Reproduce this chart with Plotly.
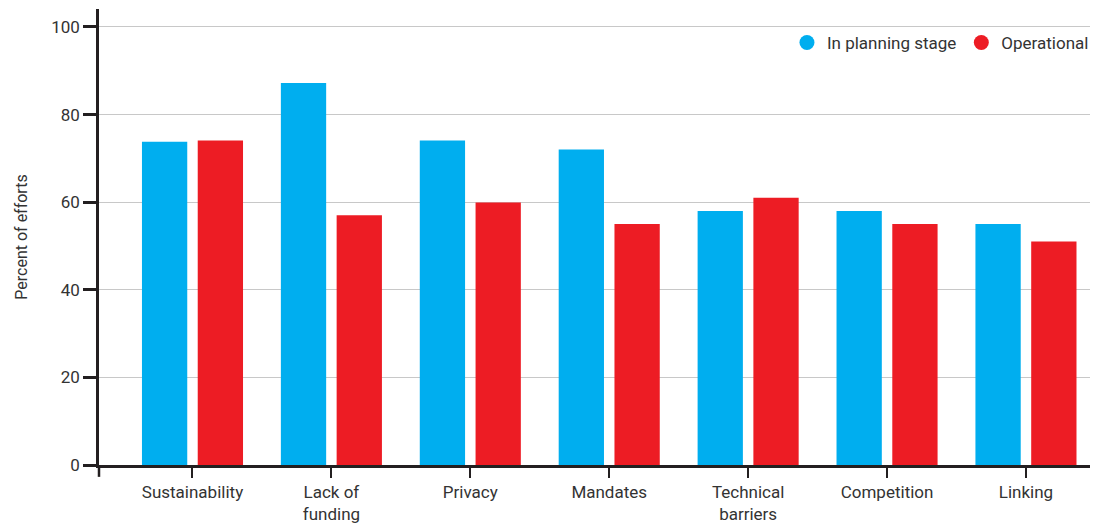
import plotly.graph_objects as go

categories = ["Sustainability", "Lack of<br>funding", "Privacy", "Mandates",
              "Technical<br>barriers", "Competition", "Linking"]
planning = [73.8, 87.2, 74.1, 72.0, 58.0, 58.0, 55.0]
operational = [74.1, 57.0, 59.9, 55.0, 61.0, 55.0, 51.0]
y_ticks = [0, 20, 40, 60, 80, 100]

BLUE = "#00AEEF"
RED = "#ED1C24"
INK = "#231F20"
TEXT = "#333333"
FONT = "Roboto"

x_idx = list(range(len(categories)))

fig = go.Figure()
fig.add_trace(go.Bar(x=x_idx, y=planning, marker=dict(color=BLUE, line=dict(width=0)),
                     name="In planning stage", showlegend=False))
fig.add_trace(go.Bar(x=x_idx, y=operational, marker=dict(color=RED, line=dict(width=0)),
                     name="Operational", showlegend=False))
# legend entries with circular swatches
fig.add_trace(go.Scatter(x=[None], y=[None], mode="markers", name="In planning stage",
                         marker=dict(color=BLUE, size=15, symbol="circle")))
fig.add_trace(go.Scatter(x=[None], y=[None], mode="markers", name="Operational",
                         marker=dict(color=RED, size=15, symbol="circle")))

fig.update_layout(
    width=1108, height=523,
    margin=dict(l=99, r=18, t=9, b=58),
    paper_bgcolor="white", plot_bgcolor="white",
    font=dict(family=FONT, size=16, color=TEXT),
    barmode="group", bargap=0.197, bargroupgap=0.188,
    legend=dict(orientation="h", x=1.004, xanchor="right", y=0.965, yanchor="top",
                font=dict(family=FONT, size=17, color=TEXT),
                itemwidth=30, bgcolor="rgba(0,0,0,0)", tracegroupgap=0),
    showlegend=True,
)
fig.update_xaxes(
    range=[-0.673, 6.461], tickmode="array", tickvals=x_idx, ticktext=categories,
    showline=True, linecolor=INK, linewidth=2.5,
    ticks="outside", ticklen=10, tickwidth=2, tickcolor=INK,
    showgrid=False, zeroline=False, automargin=False,
    tickfont=dict(family=FONT, size=17, color=TEXT),
)
fig.update_yaxes(
    range=[0, 104.1], tickmode="array", tickvals=y_ticks,
    showline=True, linecolor=INK, linewidth=2.5,
    ticks="outside", ticklen=13, tickwidth=2.5, tickcolor=INK,
    showgrid=True, gridcolor="#C8C8C8", gridwidth=1.2, zeroline=False, automargin=False,
    tickfont=dict(family=FONT, size=17, color=TEXT),
    title=dict(text="Percent of efforts", font=dict(family=FONT, size=16, color=TEXT), standoff=20),
)
# extension of the y axis line below the x axis
fig.add_shape(type="line", xref="paper", yref="paper", x0=0, x1=0, y0=0, y1=-0.026,
              line=dict(color=INK, width=2.5))

fig.write_html("out.html")
